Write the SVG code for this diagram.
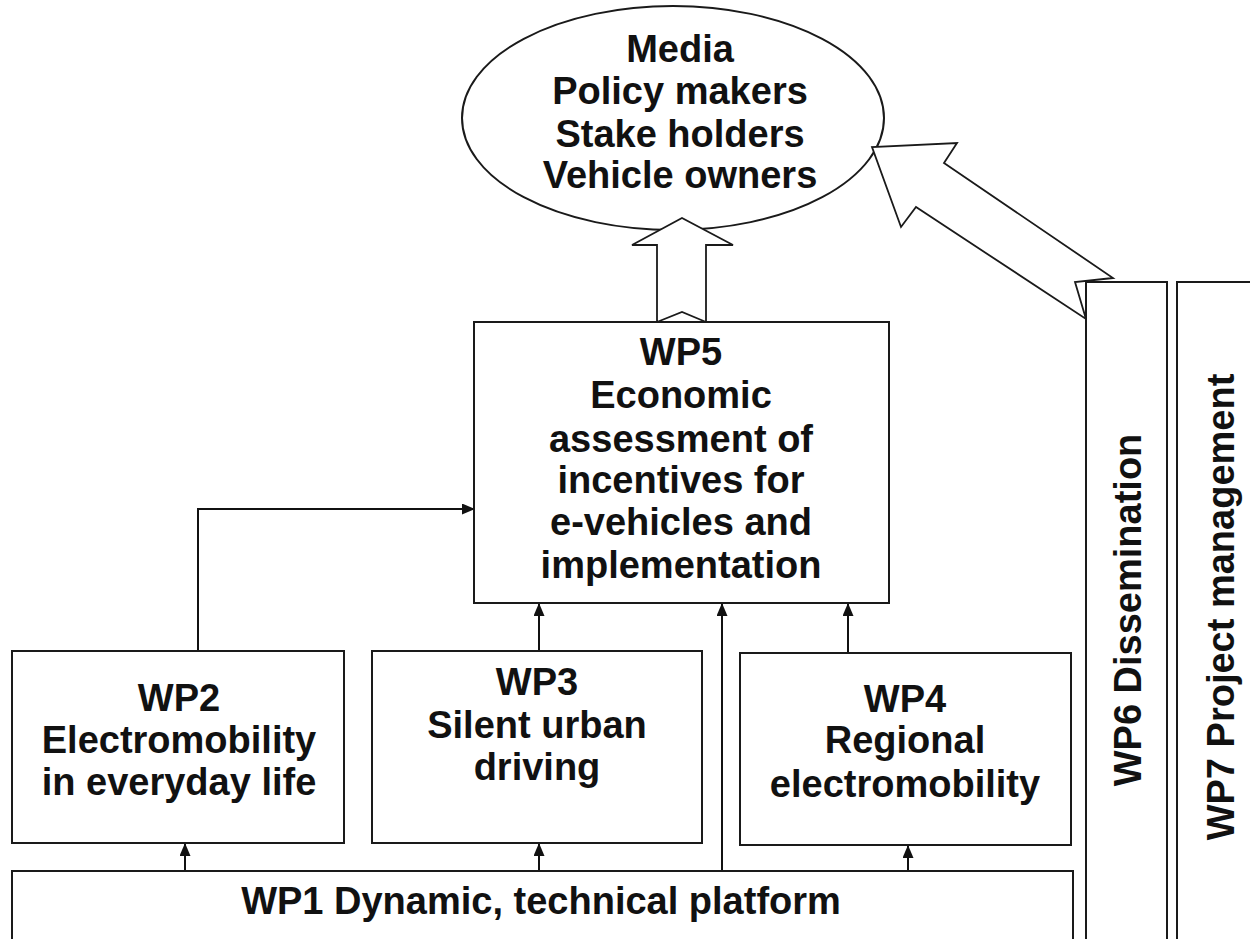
<svg xmlns="http://www.w3.org/2000/svg" width="1250" height="939" viewBox="0 0 1250 939">
<style>
.box{fill:#fff;stroke:#1a1a1a;stroke-width:2}
.blk{fill:#fff;stroke:#1a1a1a;stroke-width:1.8;stroke-linejoin:miter}
.ln{fill:none;stroke:#111;stroke-width:2}
.t{font-family:"Liberation Sans",Arial,sans-serif;font-weight:bold;font-size:38px;fill:#111;text-anchor:middle}
.r{font-size:38px}
</style>
<defs>
<marker id="ah" markerUnits="userSpaceOnUse" markerWidth="13" markerHeight="11" refX="12" refY="5.5" orient="auto">
<path d="M0,0 L13,5.5 L0,11 Z" fill="#111"/>
</marker>
</defs>
<rect width="1250" height="939" fill="#fff"/>

<g id="audience">
<ellipse class="box" cx="673" cy="118" rx="211" ry="112"/>
<text class="t" x="680" y="62">Media</text>
<text class="t" x="680" y="104">Policy makers</text>
<text class="t" x="680" y="147">Stake holders</text>
<text class="t" x="680" y="188">Vehicle owners</text>
</g>

<g id="connectors">
<polygon class="blk" points="657,322 682,312 706,322 706,245 733,245 682,218 632,245 657,245"/>
<polygon class="blk" points="1086,319 1075,282 1113,278 944,163 957,143 872,147 901,227 916,207"/>
<polyline class="ln" points="198,651 198,509 474,509" marker-end="url(#ah)"/>
<line class="ln" x1="539" y1="651" x2="539" y2="604" marker-end="url(#ah)"/>
<line class="ln" x1="722" y1="871" x2="722" y2="604" marker-end="url(#ah)"/>
<line class="ln" x1="848" y1="653" x2="848" y2="604" marker-end="url(#ah)"/>
<line class="ln" x1="185" y1="871" x2="185" y2="844" marker-end="url(#ah)"/>
<line class="ln" x1="539" y1="871" x2="539" y2="844" marker-end="url(#ah)"/>
<line class="ln" x1="908" y1="871" x2="908" y2="846" marker-end="url(#ah)"/>
</g>

<g id="wp5">
<rect class="box" x="474" y="322" width="415" height="281"/>
<text class="t" x="681" y="365">WP5</text>
<text class="t" x="681" y="408">Economic</text>
<text class="t" x="681" y="452">assessment of</text>
<text class="t" x="681" y="493">incentives for</text>
<text class="t" x="681" y="535">e-vehicles and</text>
<text class="t" x="681" y="578">implementation</text>
</g>

<g id="wp2">
<rect class="box" x="12" y="651" width="332" height="192"/>
<text class="t" x="179" y="711">WP2</text>
<text class="t" x="179" y="753">Electromobility</text>
<text class="t" x="179" y="795">in everyday life</text>
</g>

<g id="wp3">
<rect class="box" x="372" y="651" width="330" height="192"/>
<text class="t" x="537" y="695">WP3</text>
<text class="t" x="537" y="738">Silent urban</text>
<text class="t" x="537" y="780">driving</text>
</g>

<g id="wp4">
<rect class="box" x="740" y="653" width="331" height="192"/>
<text class="t" x="905" y="712">WP4</text>
<text class="t" x="905" y="753">Regional</text>
<text class="t" x="905" y="797">electromobility</text>
</g>

<g id="wp1">
<rect class="box" x="12" y="871" width="1061" height="90"/>
<text class="t" x="541" y="914">WP1 Dynamic, technical platform</text>
</g>

<g id="wp6">
<rect class="box" x="1086" y="282" width="81" height="680"/>
<text class="t r" transform="translate(1141,610) rotate(-90)">WP6 Dissemination</text>
</g>

<g id="wp7">
<rect class="box" x="1177" y="282" width="90" height="680"/>
<text class="t r" transform="translate(1234,607) rotate(-90)">WP7 Project management</text>
</g>
</svg>
